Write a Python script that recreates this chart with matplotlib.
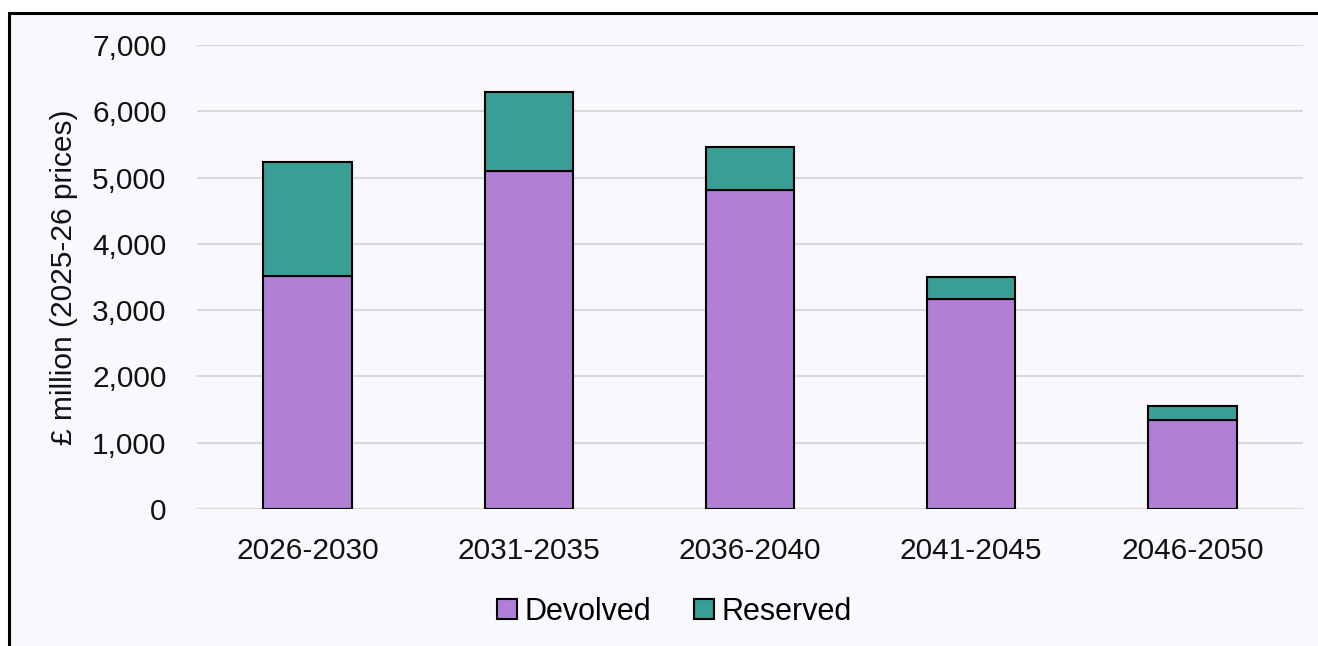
import numpy as np
import matplotlib.pyplot as plt
from matplotlib.patches import Rectangle

# Datos
periodos = ["2026-2030", "2031-2035", "2036-2040", "2041-2045", "2046-2050"]
devolved = [3510, 5100, 4810, 3175, 1340]
reserved = [1720, 1190, 650, 325, 220]

color_dev = "#B17FD6"
color_res = "#399F94"
fondo = "#F9F8FD"

plt.rcParams["font.family"] = ["Liberation Sans", "DejaVu Sans"]

fig = plt.figure(figsize=(13.18, 6.46), dpi=100)
fig.patch.set_facecolor("white")

# Marco exterior (sale por la derecha y por abajo)
marco = Rectangle((9 / 1318, -0.1), 1.2, 1 - 13 / 646 + 0.1,
                  transform=fig.transFigure, facecolor=fondo,
                  edgecolor="black", linewidth=2.2, zorder=-10,
                  clip_on=False)
fig.patches.append(marco)

ax = fig.add_axes([197 / 1318, 1 - 509 / 646, (1303 - 197) / 1318, (509 - 45) / 646])
ax.set_facecolor("none")

x = np.arange(len(periodos))
ancho = 0.4
ax.bar(x, devolved, ancho, color=color_dev, edgecolor="black",
       linewidth=1.5, label="Devolved", zorder=3)
ax.bar(x, reserved, ancho, bottom=devolved, color=color_res,
       edgecolor="black", linewidth=1.5, label="Reserved", zorder=3)

ax.set_xlim(-0.5, len(periodos) - 0.5)
ax.set_ylim(0, 7000)
ax.set_yticks(np.arange(0, 7001, 1000))
ax.set_yticklabels([f"{v:,}" for v in range(0, 7001, 1000)])
ax.set_xticks(x)
ax.set_xticklabels(periodos)
ax.tick_params(axis="both", length=0, labelsize=21.5, colors="#111111")
ax.tick_params(axis="y", pad=22)
ax.tick_params(axis="x", pad=20)

ax.grid(axis="y", color="#D9D9D9", linewidth=1.5, zorder=0)
for s in ax.spines.values():
    s.set_visible(False)

ax.set_ylabel("£ million (2025-26 prices)", fontsize=21.5, color="#111111")
ax.yaxis.set_label_coords(-0.108, 0.5)

leg = ax.legend(loc="center", bbox_to_anchor=(0.432, -0.222), ncol=2,
                frameon=False, fontsize=22, handlelength=0.65,
                handleheight=0.65, handletextpad=0.25, columnspacing=1.4)

fig.savefig("out.png", dpi=100, facecolor=fig.get_facecolor())
